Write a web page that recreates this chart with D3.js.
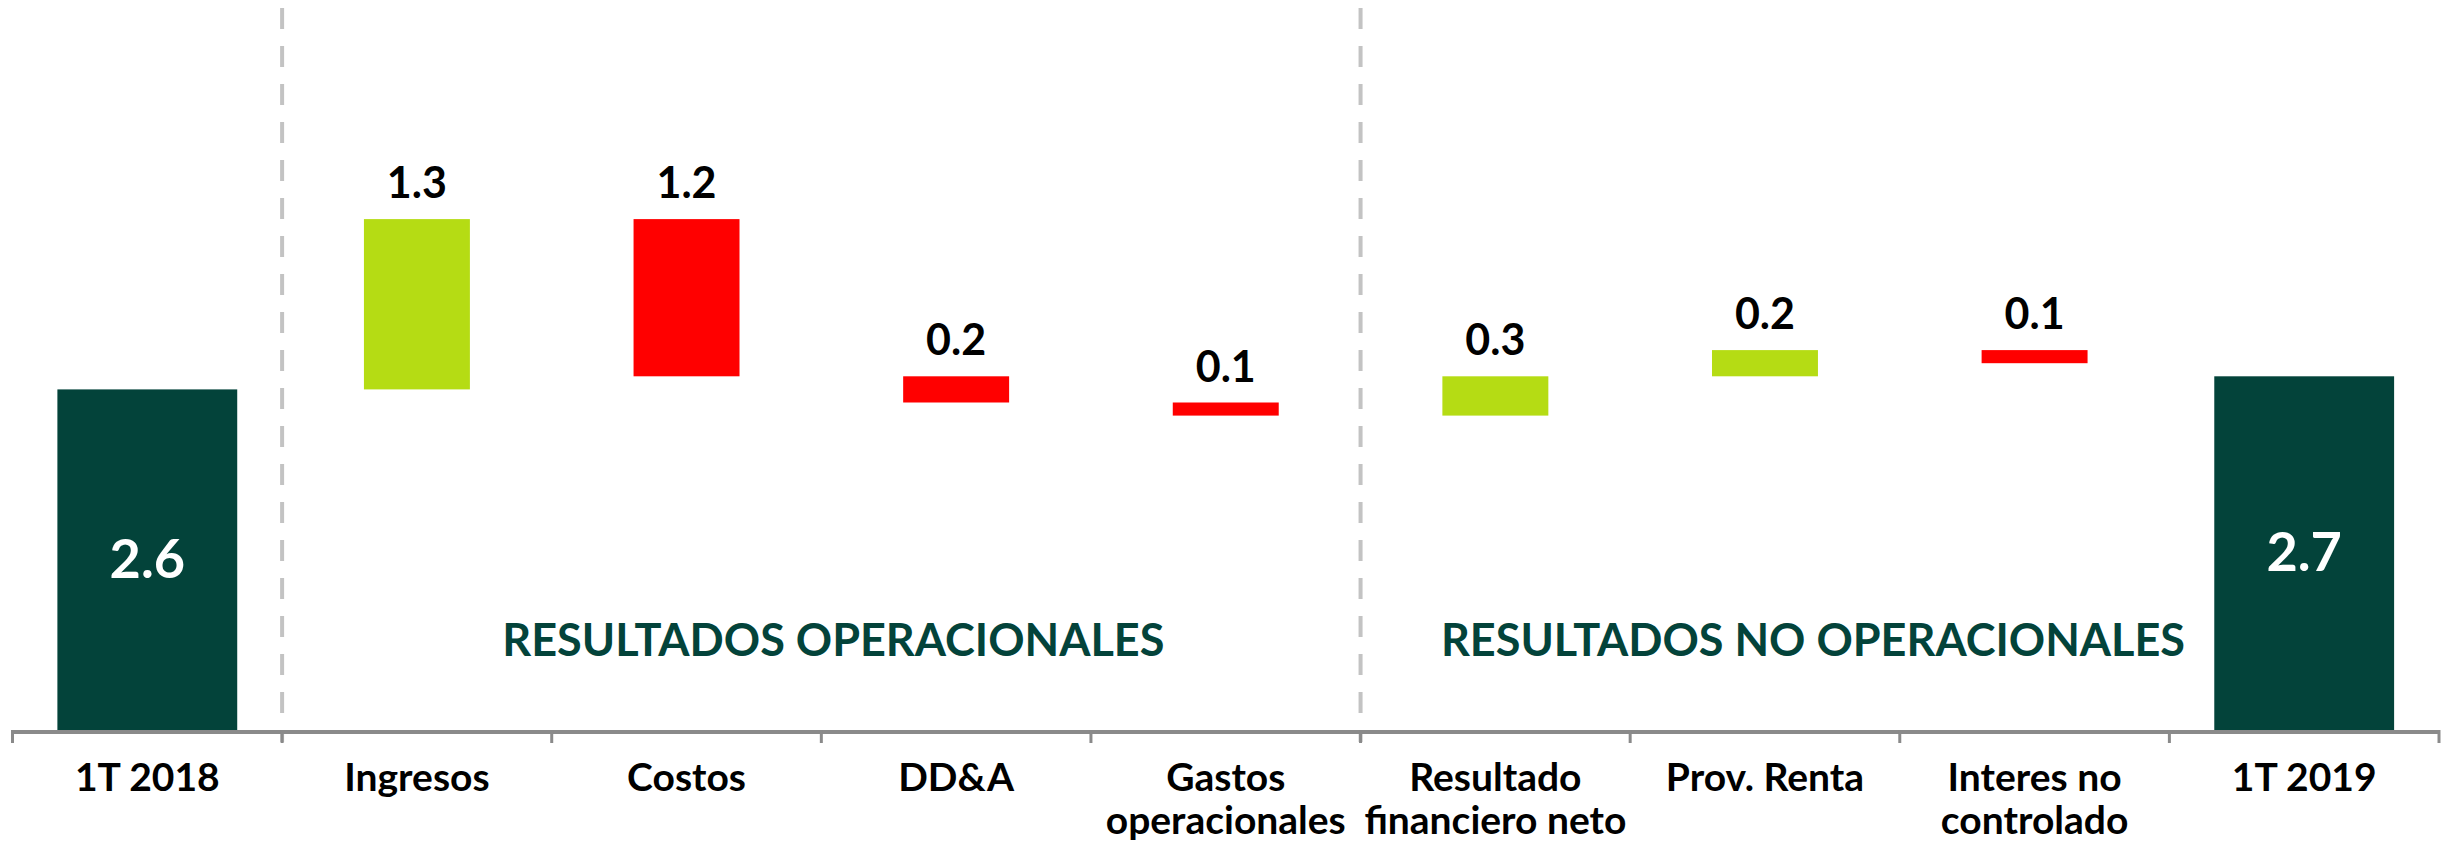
<!DOCTYPE html>
<html>
<head>
<meta charset="utf-8">
<script src="https://cdn.jsdelivr.net/npm/d3@7"></script>
<style>
  body { margin: 0; background: #fff; }
  text { font-family: Lato, "Open Sans", sans-serif; font-weight: bold; }
</style>
</head>
<body>
<div id="chart"></div>
<script>
// categories on the x axis (with their label lines)
var categories = ["1T 2018", "Ingresos", "Costos", "DD&A", "Gastos operacionales",
                  "Resultado financiero neto", "Prov. Renta", "Interes no controlado", "1T 2019"];
var labelLines = [["1T 2018"], ["Ingresos"], ["Costos"], ["DD&A"], ["Gastos", "operacionales"],
                  ["Resultado", "financiero neto"], ["Prov. Renta"], ["Interes no", "controlado"], ["1T 2019"]];
// signed values, totals are absolute
var values = [2.6, 1.3, -1.2, -0.2, -0.1, 0.3, 0.2, -0.1, 2.7];
var kinds = ["total", "delta", "delta", "delta", "delta", "delta", "delta", "delta", "total"];
// section labels and where their divider sits
var sectionNames = ["RESULTADOS OPERACIONALES", "RESULTADOS NO OPERACIONALES"];
var sectionStart = ["Ingresos", "Resultado financiero neto"];
var sectionCenter = ["DD&A", "Prov. Renta"];

var w = 2447, h = 842;
var baseY = 730;

var svg = d3.select("#chart").append("svg")
            .attr("width", w)
            .attr("height", h);

var xScale = d3.scaleBand()
                .domain(categories)
                .range([12.5, 2439])
                .padding(0);
var bw = xScale.bandwidth();

var yScale = d3.scaleLinear()
                .domain([0, 5])
                .range([baseY, baseY - 5 * 131]);

var colors = { total: "#03433A", up: "#B5DC14", down: "#FF0000" };

// build waterfall rows
var running = 0;
var rows = categories.map(function(c, i) {
    var v = values[i], r;
    if (kinds[i] == "total") {
        r = { cat: c, y0: 0, y1: v, v: v, kind: "total" };
        running = v;
    } else {
        r = { cat: c, y0: running, y1: running + v, v: v, kind: v >= 0 ? "up" : "down" };
        running = running + v;
    }
    return r;
});

// dashed section dividers
svg.append("g")
    .selectAll("line")
    .data(sectionStart)
    .enter()
    .append("line")
    .attr("x1", function(d) { return xScale(d); })
    .attr("x2", function(d) { return xScale(d); })
    .attr("y1", 8)
    .attr("y2", baseY + 12)
    .attr("stroke", "#C3C3C3")
    .attr("stroke-width", 4)
    .attr("stroke-dasharray", "21,17");

// bars
svg.append("g")
    .selectAll("rect")
    .data(rows)
    .enter()
    .append("rect")
    .attr("x", function(d) {
        var bwBar = d.kind == "total" ? bw * 0.667 : bw * 0.393;
        return xScale(d.cat) + (bw - bwBar) / 2;
    })
    .attr("width", function(d) { return d.kind == "total" ? bw * 0.667 : bw * 0.393; })
    .attr("y", function(d) { return yScale(Math.max(d.y0, d.y1)); })
    .attr("height", function(d) { return Math.abs(yScale(d.y0) - yScale(d.y1)); })
    .attr("fill", function(d) { return colors[d.kind]; });

// value labels
svg.append("g")
    .selectAll("text")
    .data(rows)
    .enter()
    .append("text")
    .attr("text-anchor", "middle")
    .attr("x", function(d) { return xScale(d.cat) + bw / 2; })
    .attr("y", function(d) {
        if (d.kind == "total") return (yScale(d.y1) + baseY) / 2 + 18;
        return yScale(Math.max(d.y0, d.y1)) - 21;
    })
    .attr("font-size", function(d) { return d.kind == "total" ? "54px" : "43px"; })
    .attr("fill", function(d) { return d.kind == "total" ? "#fff" : "#000"; })
    .text(function(d) { return d3.format(".1f")(Math.abs(d.v)); });

// section titles
svg.append("g")
    .selectAll("text")
    .data(sectionNames)
    .enter()
    .append("text")
    .attr("text-anchor", "middle")
    .attr("x", function(d, i) { return i == 0 ? xScale(sectionCenter[i]) + 12 : xScale(sectionCenter[i]) + bw / 2 + 48; })
    .attr("y", 656)
    .attr("font-size", "45px")
    .attr("fill", "#03433A")
    .text(function(d) { return d; });

// x axis line and ticks
var axis = svg.append("g");
axis.append("line")
    .attr("x1", xScale.range()[0])
    .attr("x2", xScale.range()[1])
    .attr("y1", baseY + 2)
    .attr("y2", baseY + 2)
    .attr("stroke", "#8A8A8A")
    .attr("stroke-width", 4);

var tickPos = categories.map(function(c) { return xScale(c); }).concat([xScale.range()[1]]);
axis.selectAll("line.tick")
    .data(tickPos)
    .enter()
    .append("line")
    .attr("class", "tick")
    .attr("x1", function(d) { return d; })
    .attr("x2", function(d) { return d; })
    .attr("y1", baseY)
    .attr("y2", baseY + 13)
    .attr("stroke", "#8A8A8A")
    .attr("stroke-width", 3);

// category labels
var catLabels = axis.selectAll("text")
    .data(categories)
    .enter()
    .append("text")
    .attr("text-anchor", "middle")
    .attr("font-size", "39px")
    .attr("fill", "#000")
    .attr("transform", function(d) { return "translate(" + (xScale(d) + bw / 2) + "," + 791 + ")"; });

catLabels.selectAll("tspan")
    .data(function(d, i) { return labelLines[i]; })
    .enter()
    .append("tspan")
    .attr("x", 0)
    .attr("y", function(d, i) { return i * 43; })
    .text(function(d) { return d; });
</script>
</body>
</html>
